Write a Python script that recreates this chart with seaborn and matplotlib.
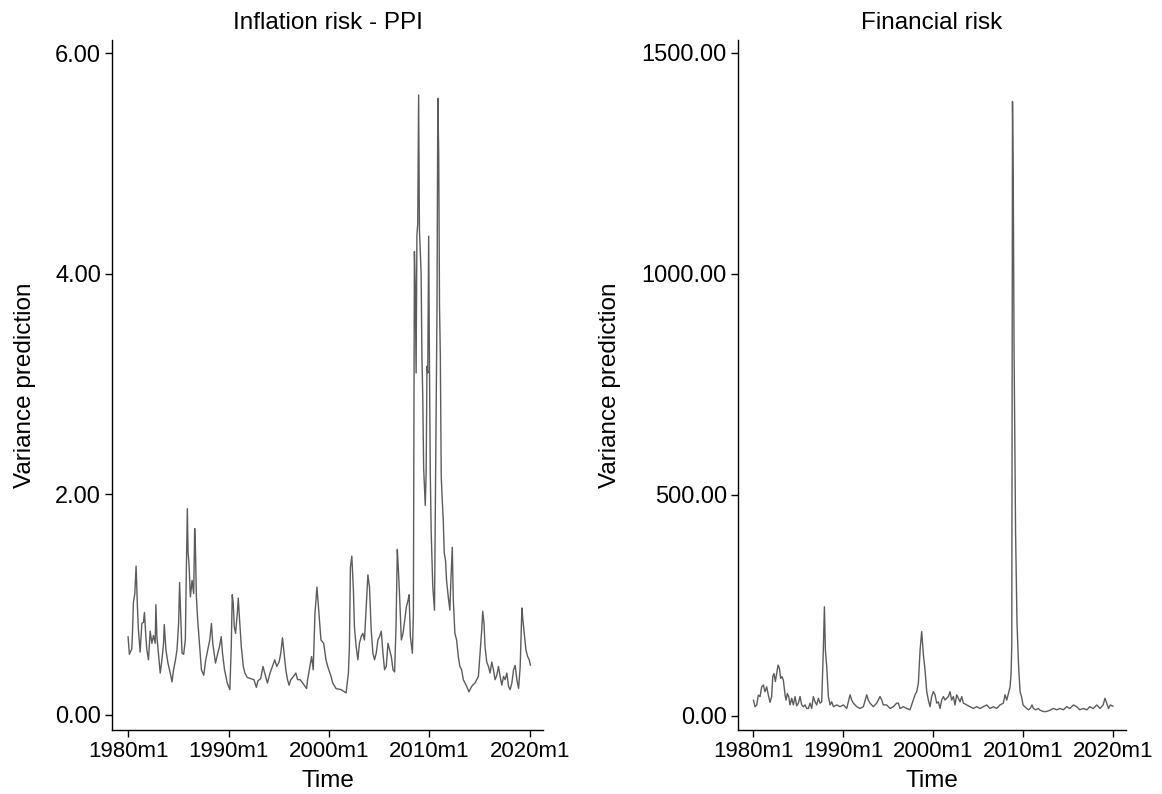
import matplotlib
matplotlib.use("Agg")
import matplotlib.pyplot as plt
from matplotlib.ticker import FormatStrFormatter
import numpy as np
import pandas as pd
import seaborn as sns

# ---------------- data ----------------
ppi_time = [
    1980.00, 1980.13, 1980.37, 1980.45, 1980.53, 1980.67, 1980.80, 1980.93, 1981.03, 1981.20,
    1981.37, 1981.53, 1981.63, 1981.77, 1981.87, 1982.03, 1982.20, 1982.37, 1982.53, 1982.70,
    1982.77, 1982.87, 1983.03, 1983.20, 1983.37, 1983.53, 1983.60, 1983.77, 1983.97, 1984.20,
    1984.37, 1984.53, 1984.70, 1984.87, 1985.03, 1985.13, 1985.23, 1985.37, 1985.53, 1985.70,
    1985.80, 1985.90, 1985.97, 1986.07, 1986.20, 1986.37, 1986.53, 1986.63, 1986.70, 1986.80,
    1986.93, 1987.10, 1987.30, 1987.53, 1987.73, 1987.93, 1988.13, 1988.30, 1988.43, 1988.70,
    1988.93, 1989.10, 1989.27, 1989.40, 1989.60, 1989.87, 1990.13, 1990.27, 1990.37, 1990.47,
    1990.57, 1990.70, 1990.87, 1990.97, 1991.10, 1991.27, 1991.47, 1991.63, 1991.87, 1992.20,
    1992.53, 1992.77, 1992.93, 1993.20, 1993.43, 1993.60, 1993.87, 1994.13, 1994.37, 1994.60,
    1994.80, 1995.03, 1995.20, 1995.37, 1995.53, 1995.70, 1995.87, 1996.03, 1996.20, 1996.47,
    1996.70, 1996.87, 1997.13, 1997.37, 1997.60, 1997.77, 1997.87, 1998.13, 1998.27, 1998.43,
    1998.60, 1998.80, 1998.95, 1999.20, 1999.47, 1999.70, 1999.87, 2000.20, 2000.37, 2000.70,
    2001.20, 2001.70, 2001.93, 2002.03, 2002.13, 2002.27, 2002.43, 2002.53, 2002.70, 2002.87,
    2003.03, 2003.20, 2003.37, 2003.53, 2003.70, 2003.87, 2004.03, 2004.20, 2004.37, 2004.53,
    2004.70, 2004.87, 2005.03, 2005.20, 2005.37, 2005.53, 2005.70, 2005.87, 2006.03, 2006.20,
    2006.37, 2006.53, 2006.67, 2006.80, 2006.90, 2007.03, 2007.20, 2007.37, 2007.53, 2007.70,
    2007.87, 2007.97, 2008.10, 2008.30, 2008.40, 2008.50, 2008.58, 2008.67, 2008.75, 2008.83,
    2008.92, 2009.00, 2009.08, 2009.17, 2009.25, 2009.33, 2009.42, 2009.50, 2009.58, 2009.67,
    2009.75, 2009.83, 2009.92, 2010.00, 2010.08, 2010.17, 2010.25, 2010.33, 2010.42, 2010.50,
    2010.58, 2010.67, 2010.75, 2010.83, 2010.92, 2011.00, 2011.08, 2011.17, 2011.27, 2011.37,
    2011.47, 2011.60, 2011.70, 2011.87, 2012.03, 2012.13, 2012.27, 2012.37, 2012.53, 2012.70,
    2012.87, 2013.03, 2013.20, 2013.37, 2013.53, 2013.70, 2013.93, 2014.20, 2014.53, 2014.87,
    2015.03, 2015.20, 2015.30, 2015.43, 2015.53, 2015.70, 2015.87, 2016.03, 2016.20, 2016.37,
    2016.53, 2016.70, 2016.87, 2017.03, 2017.20, 2017.37, 2017.53, 2017.70, 2017.87, 2018.03,
    2018.20, 2018.37, 2018.53, 2018.70, 2018.87, 2019.03, 2019.20, 2019.30, 2019.43, 2019.60,
    2019.77, 2019.93, 2020.05,
]
ppi_variance = [
    0.71, 0.55, 0.60, 0.77, 1.02, 1.10, 1.35, 0.98, 0.77, 0.57,
    0.83, 0.84, 0.93, 0.71, 0.59, 0.50, 0.76, 0.65, 0.72, 0.65,
    1.00, 0.71, 0.55, 0.38, 0.50, 0.65, 0.82, 0.59, 0.47, 0.38,
    0.30, 0.41, 0.49, 0.59, 0.83, 1.20, 0.92, 0.56, 0.55, 0.68,
    1.31, 1.87, 1.48, 1.36, 1.07, 1.22, 1.10, 1.69, 1.53, 1.07,
    0.86, 0.65, 0.41, 0.36, 0.50, 0.59, 0.68, 0.83, 0.65, 0.47,
    0.56, 0.62, 0.71, 0.56, 0.41, 0.29, 0.23, 0.62, 1.09, 1.01,
    0.80, 0.74, 0.92, 1.06, 0.86, 0.62, 0.44, 0.38, 0.34, 0.33,
    0.32, 0.25, 0.31, 0.33, 0.44, 0.38, 0.29, 0.38, 0.44, 0.50,
    0.44, 0.48, 0.56, 0.70, 0.56, 0.41, 0.32, 0.27, 0.32, 0.35,
    0.38, 0.32, 0.32, 0.29, 0.26, 0.24, 0.32, 0.46, 0.53, 0.41,
    0.92, 1.16, 0.98, 0.68, 0.65, 0.50, 0.44, 0.35, 0.29, 0.24,
    0.23, 0.20, 0.38, 0.62, 1.34, 1.44, 1.13, 0.80, 0.62, 0.50,
    0.65, 0.71, 0.74, 0.68, 0.98, 1.27, 1.16, 0.77, 0.56, 0.50,
    0.56, 0.68, 0.71, 0.76, 0.56, 0.41, 0.44, 0.65, 0.59, 0.53,
    0.41, 0.39, 0.80, 1.50, 1.33, 1.07, 0.68, 0.74, 0.86, 0.98,
    1.04, 1.09, 0.71, 0.56, 0.92, 4.20, 3.90, 3.10, 4.35, 4.45,
    5.62, 4.40, 4.20, 4.00, 3.24, 2.90, 2.24, 2.07, 1.90, 2.20,
    3.16, 3.10, 4.34, 3.16, 2.20, 1.66, 1.40, 1.16, 1.05, 0.95,
    1.83, 2.77, 3.70, 5.59, 5.09, 3.70, 3.26, 2.16, 1.95, 1.77,
    1.47, 1.40, 1.22, 1.07, 0.95, 1.22, 1.52, 1.05, 0.74, 0.68,
    0.53, 0.44, 0.41, 0.32, 0.29, 0.26, 0.21, 0.26, 0.29, 0.35,
    0.56, 0.77, 0.94, 0.83, 0.62, 0.48, 0.44, 0.38, 0.48, 0.41,
    0.32, 0.36, 0.44, 0.35, 0.27, 0.35, 0.32, 0.38, 0.26, 0.23,
    0.29, 0.41, 0.45, 0.32, 0.24, 0.44, 0.97, 0.86, 0.74, 0.59,
    0.53, 0.50, 0.45,
]

fin_time = [
    1980.04, 1980.22, 1980.41, 1980.59, 1980.78, 1980.96, 1981.15, 1981.33, 1981.52, 1981.70,
    1981.89, 1982.07, 1982.19, 1982.33, 1982.48, 1982.63, 1982.78, 1982.93, 1983.07, 1983.22,
    1983.37, 1983.56, 1983.67, 1983.81, 1983.96, 1984.11, 1984.30, 1984.48, 1984.67, 1984.85,
    1985.04, 1985.22, 1985.41, 1985.59, 1985.78, 1985.96, 1986.15, 1986.33, 1986.52, 1986.70,
    1986.89, 1987.07, 1987.26, 1987.44, 1987.63, 1987.81, 1987.93, 1988.04, 1988.19, 1988.37,
    1988.56, 1988.74, 1988.93, 1989.30, 1989.67, 1990.04, 1990.41, 1990.78, 1990.96, 1991.15,
    1991.52, 1991.89, 1992.26, 1992.63, 1992.81, 1993.00, 1993.37, 1993.74, 1994.11, 1994.30,
    1994.48, 1994.85, 1995.22, 1995.59, 1995.96, 1996.15, 1996.33, 1996.70, 1997.07, 1997.44,
    1997.81, 1998.00, 1998.19, 1998.37, 1998.56, 1998.74, 1998.93, 1999.11, 1999.30, 1999.48,
    1999.67, 1999.85, 2000.04, 2000.22, 2000.41, 2000.59, 2000.78, 2000.96, 2001.15, 2001.33,
    2001.52, 2001.70, 2001.89, 2002.07, 2002.26, 2002.44, 2002.63, 2002.81, 2003.00, 2003.19,
    2003.37, 2003.74, 2004.11, 2004.48, 2004.85, 2005.22, 2005.59, 2005.96, 2006.33, 2006.70,
    2007.07, 2007.44, 2007.81, 2008.00, 2008.19, 2008.37, 2008.56, 2008.67, 2008.75, 2008.83,
    2008.92, 2009.00, 2009.17, 2009.33, 2009.50, 2009.67, 2009.83, 2010.00, 2010.20, 2010.40,
    2010.60, 2010.80, 2011.00, 2011.15, 2011.40, 2011.70, 2011.90, 2012.26, 2012.60, 2013.00,
    2013.37, 2013.74, 2014.10, 2014.48, 2014.85, 2015.20, 2015.60, 2015.96, 2016.30, 2016.70,
    2017.10, 2017.40, 2017.80, 2018.20, 2018.56, 2018.90, 2019.10, 2019.30, 2019.50, 2019.70,
    2019.90, 2020.00,
]
fin_variance = [
    36, 21, 25, 47, 44, 66, 70, 55, 66, 47,
    31, 44, 89, 96, 78, 96, 115, 108, 85, 89,
    81, 47, 36, 51, 44, 25, 40, 25, 44, 23,
    29, 44, 25, 21, 25, 17, 17, 29, 17, 44,
    32, 25, 40, 29, 32, 149, 247, 149, 111, 44,
    25, 32, 21, 25, 21, 25, 17, 48, 36, 29,
    21, 17, 21, 48, 36, 29, 21, 29, 44, 36,
    25, 25, 17, 21, 29, 29, 17, 21, 17, 14,
    36, 48, 55, 74, 149, 191, 138, 104, 55, 36,
    21, 44, 55, 48, 29, 32, 17, 36, 44, 36,
    40, 44, 55, 36, 44, 25, 48, 40, 32, 44,
    29, 25, 21, 17, 21, 17, 21, 25, 17, 21,
    17, 25, 29, 48, 36, 51, 66, 96, 160, 1390,
    1185, 840, 416, 210, 115, 55, 44, 25, 21, 17,
    14, 17, 25, 17, 14, 17, 13, 10, 10, 13,
    17, 14, 17, 14, 21, 17, 25, 21, 14, 17,
    14, 21, 17, 25, 17, 25, 40, 29, 17, 25,
    23, 22,
]

x_ticks = [1980, 1990, 2000, 2010, 2020]
x_tick_labels = ["1980m1", "1990m1", "2000m1", "2010m1", "2020m1"]
ppi_y_ticks = [0, 2, 4, 6]
fin_y_ticks = [0, 500, 1000, 1500]

panel_titles = ["Inflation risk - PPI", "Financial risk"]
y_label = "Variance prediction"
x_label = "Time"

# ---------------- style ----------------
sns.set_theme(style="white")
plt.rcParams["font.family"] = ["Liberation Sans", "DejaVu Sans"]
LINE = "#5c5c5c"

W, H = 1162, 794
fig = plt.figure(figsize=(W / 100, H / 100), dpi=100)
ax1 = fig.add_axes([112 / W, 1 - 730 / H, 431 / W, 690 / H])
ax2 = fig.add_axes([738 / W, 1 - 730 / H, 388 / W, 690 / H])

df_ppi = pd.DataFrame({"Time": ppi_time, "Variance": ppi_variance})
df_fin = pd.DataFrame({"Time": fin_time, "Variance": fin_variance})

sns.lineplot(data=df_ppi, x="Time", y="Variance", ax=ax1, color=LINE,
             linewidth=1.0, estimator=None, sort=False)
sns.lineplot(data=df_fin, x="Time", y="Variance", ax=ax2, color=LINE,
             linewidth=1.0, estimator=None, sort=False)

ax1.set_xlim(1978.4, 2021.3)
ax2.set_xlim(1978.33, 2021.44)
ax1.set_ylim(-0.136, 6.118)
ax2.set_ylim(-31.7, 1529)

ylab_x = [-0.202, -0.33]
for ax, title, yt, lx in zip([ax1, ax2], panel_titles,
                             [ppi_y_ticks, fin_y_ticks], ylab_x):
    ax.set_xticks(x_ticks)
    ax.set_xticklabels(x_tick_labels)
    ax.set_yticks(yt)
    ax.yaxis.set_major_formatter(FormatStrFormatter("%.2f"))
    for s in ["top", "right"]:
        ax.spines[s].set_visible(False)
    for s in ["left", "bottom"]:
        ax.spines[s].set_color("black")
        ax.spines[s].set_linewidth(1.0)
    ax.tick_params(axis="both", which="major", bottom=True, left=True,
                   direction="out", length=5, width=1.0, colors="black")
    ax.tick_params(axis="x", pad=3, labelsize=16)
    ax.tick_params(axis="y", pad=3, labelsize=17)
    ax.set_facecolor("white")
    ax.grid(False)
    ax.set_title(title, fontsize=17.5, color="black", pad=0, y=1.016)
    ax.set_xlabel(x_label, fontsize=17.5, color="black", va="baseline")
    ax.xaxis.set_label_coords(0.5, -0.0826)
    ax.set_ylabel(y_label, fontsize=17.5, color="black", va="center")
    ax.yaxis.set_label_coords(lx, 0.5)

fig.savefig("out.png", dpi=100, facecolor="white")
